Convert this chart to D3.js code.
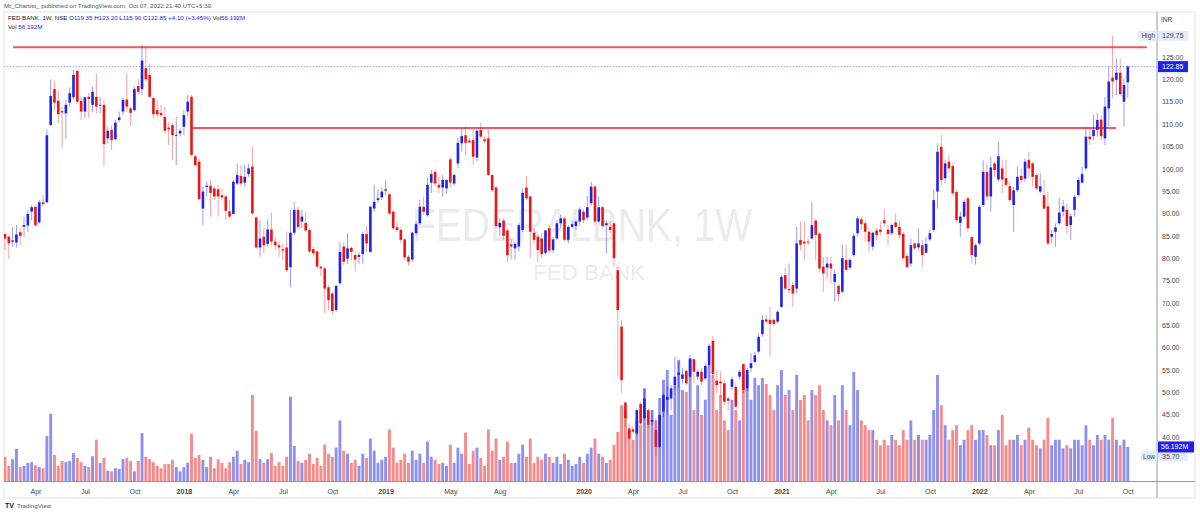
<!DOCTYPE html>
<html><head><meta charset="utf-8">
<script src="https://cdn.jsdelivr.net/npm/d3@7"></script>
<style>
body{margin:0;background:#fff;}
svg{display:block;font-family:"Liberation Sans",Arial,sans-serif;}
</style>
</head><body>
<svg id="c" width="1200" height="513"></svg>
<script>
// ---------------- DATA ----------------
const startWeek = "2017-02-06";   // Monday of first weekly bar
const opens = [85.4,84.8,83.7,83.5,85.8,87.0,87.3,90.4,91.5,88.0, 92.5,92.5,109.8,117.8,115.2,112.9,112.4,114.8,116.0,121.9, 115.2,112.8,116.1,114.3,116.1,114.2,114.3,106.8,108.7,106.6, 110.9,112.8,115.5,113.5,113.1,118.5,117.8,122.5,121.0,115.8, 113.1,112.5,111.6,109.2,109.8,107.4,107.9,109.4,112.8,116.1, 102.8,101.6,91.1,95.9,96.2,95.6,95.4,94.1,93.8,90.5, 89.9,96.7,98.4,96.9,98.8,100.5,89.1,82.4,84.8,83.2, 86.4,83.7,82.9,82.0,82.4,78.0,85.7,90.8,88.2,87.9, 86.3,82.0,81.5,78.1,77.7,73.5,72.1,68.4,74.4,82.6, 79.9,82.3,80.7,80.3,80.9,85.4,81.4,91.1,93.0,93.6, 95.1,94.3,90.4,86.9,86.3,84.2,80.3,79.7,85.6,87.8, 91.5,89.6,96.9,99.3,96.4,95.8,95.6,102.1,96.7,101.2, 105.7,107.5,106.3,106.4,102.5,108.7,106.6,106.8,98.6,95.8, 86.9,88.4,86.2,83.1,82.2,82.6,86.3,95.8,93.8,85.7, 84.8,84.4,81.2,86.7,81.8,84.4,87.8,88.9,84.1,87.0, 87.2,88.2,90.4,89.1,92.3,96.0,88.2,91.4,87.4,87.0, 87.8,77.3,64.7,47.7,41.9,41.7,40.8,47.4,44.2,46.0, 43.4,41.6,37.8,45.7,48.3,48.6,51.6,53.9,53.0,54.8, 53.5,57.4,53.5,54.6,53.1,56.1,61.5,52.6,52.4,52.0, 48.6,51.2,51.2,53.5,56.3,50.9,55.4,56.8,59.1,63.0, 66.3,66.2,66.2,65.8,69.1,76.2,73.0,74.0,73.2,84.1, 83.7,83.7,84.4,88.4,85.5,78.1,77.9,78.8,74.7,73.8, 72.5,79.6,77.9,80.7,85.6,88.7,87.8,85.9,82.6,86.2, 86.4,88.5,86.4,85.6,88.0,87.0,85.4,80.5,78.8,83.3, 82.4,82.9,81.2,84.2,86.3,94.9,104.9,97.9,101.6,100.6, 94.8,87.9,89.3,93.4,84.7,80.3,83.3,91.9,99.3,93.8, 101.2,97.6,100.1,97.9,96.1,91.9,95.2,98.4,97.8,102.0, 101.2,98.6,94.9,94.1,91.6,84.8,85.9,87.8,90.4,90.8, 87.4,90.8,94.1,96.9,100.1,107.2,107.3,108.7,111.0,106.8, 113.5,120.4,119.9,121.5,115.0,119.35];
const highs = [85.7,85.2,87.0,87.4,86.7,89.3,90.8,91.9,91.9,93.0, 94.1,108.8,120.0,119.7,117.6,113.9,115.4,118.2,122.2,122.1, 116.1,116.1,116.9,118.4,121.3,116.1,115.4,109.4,109.8,110.9, 112.8,115.8,121.3,113.9,118.4,120.0,127.7,127.3,123.6,116.1, 115.4,114.3,113.9,110.5,110.2,111.6,109.0,113.1,116.5,116.5, 103.1,102.3,96.0,97.1,97.5,96.0,96.4,95.6,94.1,93.0, 97.5,101.2,100.8,100.8,101.1,104.9,89.3,88.5,86.7,88.7, 90.2,84.8,83.7,83.3,85.9,90.8,92.6,91.5,90.8,90.4, 86.7,82.6,81.8,78.2,78.1,74.0,72.5,74.0,83.5,83.5, 85.6,82.6,81.4,81.4,85.9,87.2,91.7,96.4,95.4,95.8, 97.5,94.5,90.8,88.2,86.7,84.4,80.7,85.9,88.2,93.0, 93.8,98.1,99.7,99.7,98.2,98.6,97.6,102.7,99.0,107.0, 109.0,109.6,107.0,108.7,108.8,110.3,107.3,108.7,98.8,96.1, 88.9,88.9,86.7,84.4,83.7,87.8,95.6,98.4,94.1,86.7, 85.2,85.6,86.3,87.4,84.8,88.5,89.7,89.3,87.4,88.5, 88.5,91.4,90.8,93.9,97.1,96.4,93.8,91.7,88.5,88.2, 88.2,78.1,66.2,47.9,43.05,42.3,46.4,47.9,50.9,46.6, 46.0,44.2,45.3,49.8,51.3,51.6,58.0,56.8,55.5,55.1, 58.3,57.6,55.1,55.4,56.5,60.9,62.6,55.0,54.6,52.7, 49.0,53.5,52.0,55.1,56.5,55.4,58.7,59.1,63.2,67.3, 67.3,69.1,66.5,68.4,76.2,77.9,78.8,74.7,87.0,88.2, 88.2,84.4,92.6,88.9,85.9,80.3,80.3,80.3,77.4,74.2, 83.0,83.0,80.0,85.6,89.4,89.1,88.5,86.7,85.9,86.7, 88.2,90.9,87.4,87.8,90.0,88.5,85.9,81.1,84.4,83.7, 86.7,84.1,84.8,86.5,95.4,105.7,107.6,102.0,103.1,101.2, 95.2,90.4,93.0,93.8,84.8,83.3,91.9,101.9,101.2,102.7, 101.6,106.0,102.0,102.0,97.1,96.0,100.5,100.1,102.3,103.8, 101.6,99.0,99.0,97.5,94.9,86.3,87.8,93.4,93.0,92.3, 90.0,94.1,98.2,100.5,109.4,109.4,112.0,112.4,112.0,116.1, 122.8,129.75,124.7,124.5,120.2,123.2];
const lows = [81.8,79.8,82.6,82.4,82.9,84.8,85.9,88.5,87.0,87.8, 91.5,92.3,109.5,113.1,110.2,104.6,106.6,113.9,115.5,114.6, 110.9,111.3,111.3,112.8,112.4,112.4,100.5,105.7,104.2,106.4, 110.5,112.0,112.8,109.6,112.8,116.5,116.5,119.5,115.8,111.3, 111.5,111.6,107.9,105.3,102.0,100.8,107.2,107.5,111.7,102.7, 100.5,93.0,87.4,93.8,89.3,93.0,89.3,93.0,88.5,88.9, 89.7,96.4,96.0,96.0,98.2,89.7,82.2,80.3,81.1,82.6, 82.9,81.8,80.3,79.6,77.0,73.5,85.2,86.3,86.7,85.9, 81.2,80.3,77.7,75.9,67.7,68.4,67.3,68.0,74.0,78.5, 78.7,79.6,77.0,78.8,78.8,81.4,81.2,90.4,92.3,93.0, 94.1,89.7,86.3,85.9,83.3,79.6,78.3,79.2,85.2,87.4, 89.7,89.3,94.6,96.1,94.5,93.8,94.4,95.8,96.1,100.1, 103.8,103.1,105.7,100.8,101.6,106.8,105.7,98.4,94.9,86.7, 85.0,84.1,79.2,79.6,79.7,81.5,85.9,93.0,80.0,83.3, 79.0,80.0,80.7,81.1,81.2,84.1,86.7,83.7,83.3,86.7, 86.3,87.4,87.9,88.5,91.7,87.9,87.9,86.7,81.1,85.6, 78.1,53.5,49.8,42.3,39.3,40.8,40.4,42.7,43.8,41.9, 42.7,35.7,37.5,44.5,44.9,46.0,50.5,50.9,52.0,51.6, 53.1,52.0,52.7,51.6,52.7,55.7,53.5,49.8,49.0,47.1, 46.0,50.5,46.4,52.9,49.8,50.1,54.6,56.5,58.7,62.4, 65.4,58.0,64.7,65.4,68.8,72.9,72.2,69.1,72.1,81.8, 79.6,82.9,84.1,79.6,77.0,72.5,75.5,74.4,70.3,70.3, 72.1,77.0,77.4,80.3,84.8,86.3,83.7,81.5,81.8,84.1, 85.2,87.0,83.0,85.2,86.7,84.4,79.6,77.7,78.1,81.8, 81.8,78.1,81.1,83.7,85.9,91.1,96.4,96.7,99.3,94.1, 88.2,84.8,88.9,85.9,78.8,78.5,82.9,91.5,93.0,90.4, 98.2,97.1,94.5,96.0,92.6,85.9,94.9,96.7,97.1,97.9, 96.0,95.2,94.5,90.8,82.9,83.3,82.6,87.4,89.3,85.5, 84.1,89.3,93.8,96.7,99.7,105.3,106.4,107.2,106.4,105.3, 109.4,115.8,116.5,116.5,109.4,115.9];
const closes = [84.4,83.3,84.0,85.3,85.0,87.4,89.9,91.4,87.4,92.5, 92.1,107.5,116.3,114.8,112.2,112.6,114.3,116.9,121.0,115.0, 112.8,116.0,115.6,117.2,113.9,114.3,105.5,108.5,106.4,110.3, 111.5,115.4,113.9,112.5,117.8,117.2,124.2,120.0,116.1,112.2, 112.2,112.0,108.5,108.8,107.5,107.6,108.5,112.0,115.0,103.1, 100.8,93.2,94.9,96.2,94.6,93.8,93.8,93.6,90.6,89.3, 97.1,98.6,96.7,98.2,100.1,90.0,82.4,84.4,82.9,86.4, 83.7,82.9,82.4,81.7,77.3,85.7,90.8,87.0,89.3,86.2, 81.5,81.1,78.1,77.7,73.2,70.6,68.2,73.8,81.4,79.2, 82.2,81.4,79.7,80.7,85.4,83.3,91.5,92.6,93.4,94.9, 95.4,90.0,86.7,86.3,84.1,80.2,79.2,85.7,87.6,91.5, 90.4,96.4,98.8,96.7,95.8,97.5,97.5,96.9,98.6,105.8, 107.3,105.8,105.9,102.7,108.5,107.2,106.2,98.6,95.2,87.2, 87.9,85.0,80.7,82.6,83.2,87.4,94.6,93.4,85.9,84.1, 81.8,80.9,86.2,81.7,84.2,87.8,88.9,84.1,87.0,87.6, 88.2,90.9,88.5,91.4,96.0,88.2,91.4,87.2,87.8,86.3, 80.0,68.4,52.7,44.2,39.7,41.2,46.0,43.0,48.6,42.7, 43.8,37.8,44.9,49.4,49.0,50.9,53.5,54.4,54.0,52.0, 57.4,54.6,54.6,52.4,55.9,60.4,54.1,51.6,52.0,47.9, 48.1,52.9,46.8,54.6,50.5,55.0,56.5,58.3,62.4,66.2, 65.8,65.3,65.3,68.0,75.8,73.2,73.1,72.1,83.3,83.0, 83.3,83.5,87.4,85.2,77.7,76.6,78.8,77.7,76.5,72.0, 80.0,77.4,79.6,85.0,88.9,87.6,85.9,83.7,85.7,85.2, 85.9,87.8,85.4,87.4,87.0,85.2,80.0,78.0,82.9,82.2, 83.3,80.7,83.2,85.6,93.0,103.8,97.5,101.2,100.1,94.5, 88.5,89.3,92.6,86.7,80.7,82.9,91.5,99.3,93.8,100.3, 99.7,102.8,97.6,96.4,93.0,95.2,98.2,97.5,101.6,100.1, 98.2,95.6,96.1,91.1,83.3,85.4,86.9,90.2,91.6,87.2, 89.4,93.7,97.5,98.8,107.2,106.6,108.7,110.9,107.3,113.9, 119.5,119.5,121.5,116.7,118.75,122.85];
// weekly volume, millions
const volumes = [40,25,36,53,23,25,30,31,26,23, 21,74,111,43,25,33,31,33,46,38, 31,25,23,41,68,30,38,17,16,21, 20,36,38,33,16,33,79,40,36,31, 25,21,28,28,35,23,16,23,30,78, 38,43,35,23,40,21,36,30,21,31, 40,50,28,35,31,142,83,36,30,36, 46,25,31,25,40,139,58,33,30,35, 45,28,38,25,60,45,40,55,100,50, 45,30,35,25,45,38,70,50,30,35, 40,85,55,30,35,45,30,50,35,45, 30,65,40,35,28,30,25,60,30,55, 45,80,28,50,55,38,25,85,50,70, 35,40,65,30,30,45,60,40,70,30, 40,35,45,40,30,40,28,45,35,25, 28,40,30,45,55,70,45,40,30,35, 60,81,125,117,84,68,100,92,153,92, 117,100,137,167,183,109,158,200,150,147, 203,117,158,109,134,191,175,117,142,100, 84,134,117,100,183,175,134,170,158,170, 160,142,117,158,183,142,150,117,175,134, 142,100,150,142,158,117,100,92,142,100, 158,117,92,180,150,100,92,84,84,68, 59,68,59,76,68,59,84,68,100,68, 76,68,68,76,117,175,125,92,68,84, 92,59,68,84,92,68,84,84,76,59, 59,84,109,59,68,68,76,59,68,88, 68,59,54,68,104,59,68,68,54,59, 54,68,68,59,92,68,59,76,68,76, 68,104,68,59,68,56.192];
const priceTicks = [40,45,50,55,60,65,70,75,80,85,90,95,100,105,110,115,120,125];
const timeTickDates = ["2017-04-01","2017-07-01","2017-10-01","2018-01-01","2018-04-01","2018-07-01","2018-10-01","2019-01-01","2019-05-01","2019-08-01","2020-01-01","2020-04-01","2020-07-01","2020-10-01","2021-01-01","2021-04-01","2021-07-01","2021-10-01","2022-01-01","2022-04-01","2022-07-01","2022-10-01"];
const timeTickLabels = ["Apr","Jul","Oct","2018","Apr","Jul","Oct","2019","May","Aug","2020","Apr","Jul","Oct","2021","Apr","Jul","Oct","2022","Apr","Jul","Oct"];
const levelValues = [127.17, 109.1];      // drawn horizontal levels
const levelFrom = [2.1, 49.3];            // bar index where each level starts
const levelTo = [300, 291.9];             // bar index where each level ends
const lastClose = 122.85, rangeHigh = 129.75, rangeLow = 35.70, lastVol = 56.192;

// ---------------- CHART ----------------
const svg = d3.select("#c");
const FR = {l:4, r:1195, t:12, b:498};
const P = {l:4, r:1157, t:12, b:481};
const BLUE = "#1f22e8", RED = "#f01515";
const BLUE_W = "rgba(31,34,232,0.45)", RED_W = "rgba(240,21,21,0.40)";
const BLUE_V = "#8e90f0", RED_V = "#f58b8b";

const n = closes.length;
const bars = d3.range(n).map(i => ({i, o:opens[i], h:highs[i], l:lows[i], c:closes[i], v:volumes[i], up: closes[i] >= opens[i]}));

const x = d3.scaleLinear().domain([0, n-1]).range([5, 1127.8]);
const y = d3.scaleLinear().domain([40, 125]).range([437, 57]);
const yv = d3.scaleLinear().domain([0, 100]).range([P.b, P.b - 100/1.65]);
const bw = (x(1)-x(0));

svg.append("rect").attr("width",1200).attr("height",513).attr("fill","#fff");

// header
const hdr = svg.append("g").attr("font-size",6.2).attr("fill","#50535e");
hdr.append("text").attr("x",4).attr("y",8).text("Mr_Chartist_ published on TradingView.com, Oct 07, 2022 21:40 UTC+5:30");

svg.append("defs").append("clipPath").attr("id","clip").append("rect")
  .attr("x",P.l).attr("y",P.t).attr("width",P.r-P.l).attr("height",P.b-P.t);

// frame
svg.append("rect").attr("x",FR.l).attr("y",FR.t).attr("width",FR.r-FR.l).attr("height",FR.b-FR.t)
  .attr("fill","none").attr("stroke","#e0e3eb").attr("stroke-width",1);

const g = svg.append("g").attr("clip-path","url(#clip)");

// watermark
g.append("text").attr("x",582).attr("y",241).attr("text-anchor","middle")
  .attr("font-size",46).attr("textLength",340).attr("lengthAdjust","spacingAndGlyphs")
  .attr("fill","#9598a1").attr("fill-opacity",0.2).text("FEDERALBNK, 1W");
g.append("text").attr("x",589).attr("y",280).attr("text-anchor","middle")
  .attr("font-size",22).attr("textLength",112).attr("lengthAdjust","spacingAndGlyphs")
  .attr("fill","#9598a1").attr("fill-opacity",0.2).text("FED BANK");

// volume
g.append("g").selectAll("rect").data(bars).join("rect")
  .attr("x", d => x(d.i) - bw*0.38)
  .attr("width", bw*0.76)
  .attr("y", d => yv(d.v))
  .attr("height", d => P.b - yv(d.v))
  .attr("fill", d => d.up ? BLUE_V : RED_V);

// last price dotted line
g.append("line").attr("x1",P.l).attr("x2",P.r).attr("y1",y(lastClose)).attr("y2",y(lastClose))
  .attr("stroke",BLUE).attr("stroke-opacity",0.55).attr("stroke-width",0.8).attr("stroke-dasharray","1.2,1.8");

// levels
g.append("g").selectAll("line").data(levelValues).join("line")
  .attr("x1",(d,k)=>x(levelFrom[k])).attr("x2",(d,k)=>x(levelTo[k]))
  .attr("y1",d=>y(d)).attr("y2",d=>y(d))
  .attr("stroke","#f23645").attr("stroke-opacity",0.85).attr("stroke-width",2);

// candles
const cg = g.append("g");
cg.selectAll("line").data(bars).join("line")
  .attr("x1",d=>x(d.i)).attr("x2",d=>x(d.i))
  .attr("y1",d=>y(d.h)).attr("y2",d=>y(d.l))
  .attr("stroke",d=>d.up?BLUE_W:RED_W).attr("stroke-width",1);
cg.selectAll("rect").data(bars).join("rect")
  .attr("x",d=>x(d.i)-1.3).attr("width",2.6)
  .attr("y",d=>y(Math.max(d.o,d.c)))
  .attr("height",d=>Math.max(0.8, Math.abs(y(d.o)-y(d.c))))
  .attr("fill",d=>d.up?BLUE:RED);

// price axis
svg.append("line").attr("x1",P.r).attr("x2",P.r).attr("y1",FR.t).attr("y2",FR.b).attr("stroke","#9598a1").attr("stroke-width",1);
svg.append("line").attr("x1",FR.l).attr("x2",FR.r).attr("y1",P.b+0.5).attr("y2",P.b+0.5).attr("stroke","#9598a1").attr("stroke-width",1);
const ya = svg.append("g").attr("transform",`translate(${P.r},0)`)
  .call(d3.axisRight(y).tickValues(priceTicks).tickFormat(d3.format(".2f")).tickSize(0).tickPadding(5));
ya.select(".domain").remove();
ya.selectAll("text").attr("font-size",7).attr("fill","#434651").attr("font-family","Liberation Sans, Arial, sans-serif");

svg.append("text").attr("x",1161).attr("y",22).attr("font-size",6.5).attr("fill","#434651").text("INR");

// High label
svg.append("rect").attr("x",1138).attr("y",y(rangeHigh)-5).attr("width",19).attr("height",10).attr("fill","#e3ecfb");
svg.append("text").attr("x",1155).attr("y",y(rangeHigh)+2.4).attr("text-anchor","end").attr("font-size",6.5).attr("fill","#434651").text("High");
svg.append("rect").attr("x",P.r+1).attr("y",y(rangeHigh)-5).attr("width",30).attr("height",10).attr("fill","#e3ecfb");
svg.append("text").attr("x",P.r+5).attr("y",y(rangeHigh)+2.5).attr("font-size",7).attr("fill","#434651").text(rangeHigh.toFixed(2));
// Low label
svg.append("rect").attr("x",1141).attr("y",y(rangeLow)-5).attr("width",16).attr("height",10).attr("fill","#e3ecfb");
svg.append("text").attr("x",1155).attr("y",y(rangeLow)+2.4).attr("text-anchor","end").attr("font-size",6.5).attr("fill","#434651").text("Low");
svg.append("rect").attr("x",P.r+1).attr("y",y(rangeLow)-5).attr("width",30).attr("height",10).attr("fill","#e3ecfb");
svg.append("text").attr("x",P.r+5).attr("y",y(rangeLow)+2.5).attr("font-size",7).attr("fill","#434651").text(rangeLow.toFixed(2));
// last price
svg.append("rect").attr("x",P.r+1).attr("y",y(lastClose)-5.5).attr("width",30).attr("height",11).attr("fill",BLUE);
svg.append("text").attr("x",P.r+5).attr("y",y(lastClose)+2.5).attr("font-size",7).attr("fill","#fff").text(lastClose.toFixed(2));
// last volume
svg.append("rect").attr("x",P.r+1).attr("y",yv(lastVol)-5.5).attr("width",36).attr("height",11).attr("fill",BLUE);
svg.append("text").attr("x",P.r+4).attr("y",yv(lastVol)+2.5).attr("font-size",7).attr("fill","#fff").text(lastVol.toFixed(3)+"M");

// time axis
const DAY = 86400000;
const t0 = Date.parse(startWeek+"T00:00:00Z");
const tickIdx = timeTickDates.map(s => Math.ceil((Date.parse(s+"T00:00:00Z") - t0)/(7*DAY)));
const xa = svg.append("g").attr("transform",`translate(0,${P.b})`)
  .call(d3.axisBottom(x).tickValues(tickIdx).tickFormat((d,k)=>timeTickLabels[k]).tickSize(0).tickPadding(8));
xa.select(".domain").remove();
xa.selectAll("text").attr("font-size",7).attr("fill","#434651")
  .attr("font-family","Liberation Sans, Arial, sans-serif")
  .attr("font-weight",(d,k)=>/^\d{4}$/.test(timeTickLabels[k])?"bold":"normal");

// legend
const lg = svg.append("g").attr("font-size",6.2);
const t1 = lg.append("text").attr("x",8).attr("y",20).attr("fill","#131722");
const parts = [["FED BANK, 1W, NSE  ","#131722"],["O","#131722"],["119.35 ",BLUE],["H","#131722"],["123.20 ",BLUE],["L","#131722"],["115.90 ",BLUE],["C","#131722"],["122.85 ",BLUE],["+4.10 (+3.45%)  ",BLUE],["Vol","#131722"],["56.192M",BLUE]];
parts.forEach(p => t1.append("tspan").attr("fill",p[1]).text(p[0]));
const t2 = lg.append("text").attr("x",8).attr("y",29);
t2.append("tspan").attr("fill","#131722").text("Vol  ");
t2.append("tspan").attr("fill",BLUE).text("56.192M");

// footer
const ft = svg.append("g");
ft.append("text").attr("x",5).attr("y",508).attr("font-size",7).attr("font-weight","bold").attr("fill","#131722").text("\u{1D413}\u{1D415}".length?"TV":"TV");
ft.append("text").attr("x",17).attr("y",508).attr("font-size",6.2).attr("fill","#50535e").text("TradingView");
</script>
</body></html>
